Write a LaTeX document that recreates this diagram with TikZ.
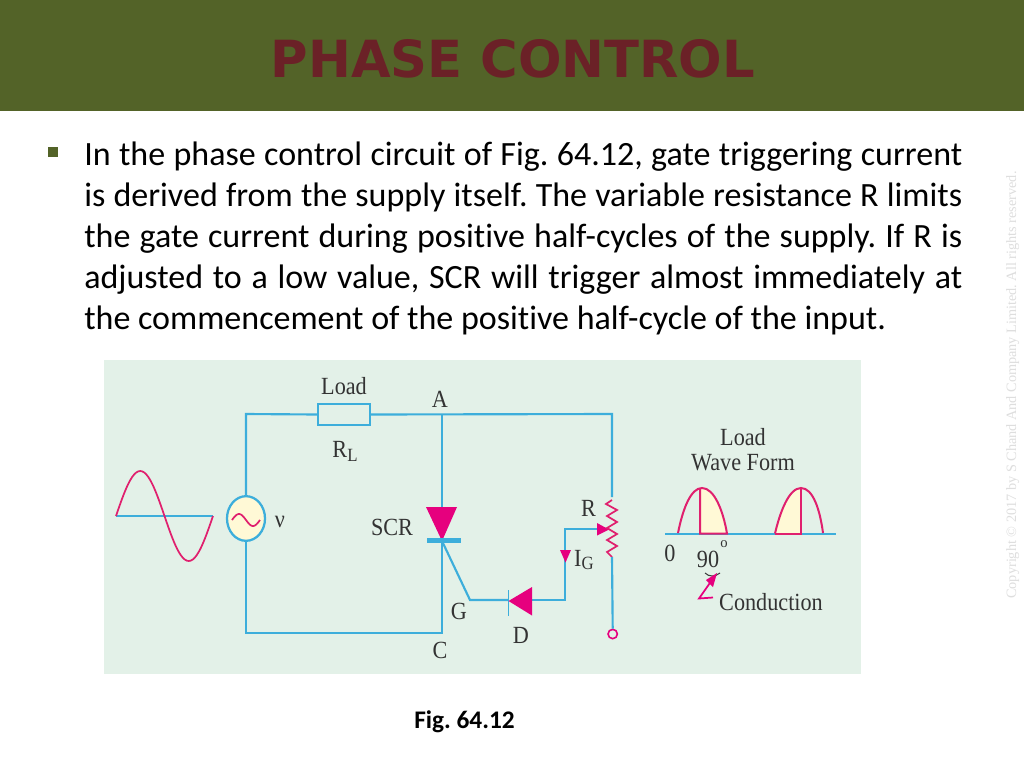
\documentclass[tikz,border=0pt]{standalone}
\usepackage{fontspec}
\setmainfont[Ligatures=NoCommon]{Carlito}
\newfontfamily\titlefont{DejaVu Sans}
\newfontfamily\figfont[FakeStretch=0.9]{Liberation Serif}
\newfontfamily\copyfont{Liberation Serif}
\usetikzlibrary{calc,shapes.geometric}
\definecolor{headgreen}{HTML}{536328}
\definecolor{titlered}{HTML}{6B2127}
\definecolor{panelgreen}{HTML}{E3F1E8}
\definecolor{wireblue}{HTML}{3DAEDB}
\definecolor{magentaC}{HTML}{E6007E}
\definecolor{crimsonC}{HTML}{E0206E}
\definecolor{fillyellow}{HTML}{FFF9D6}
\definecolor{copygray}{HTML}{DEDEDE}
\tikzset{
 wire/.style={draw=wireblue,line width=1.6pt,line join=miter},
 pinkline/.style={draw=crimsonC,line width=1.5pt},
 lbl/.style={font=\figfont\fontsize{18.5}{20}\selectfont,text=black!80,inner sep=0pt},
 bodyline/.style={anchor=base west,inner sep=0pt,font=\fontsize{25.5}{30}\selectfont,text=black},
}
\newcommand{\jline}[1]{\makebox[658.5pt][s]{#1}}
\frenchspacing
\begin{document}
\begin{tikzpicture}[x=0.75pt,y=-0.75pt]
\useasboundingbox (0,0) rectangle (1024,768);
\fill[white] (0,0) rectangle (1024,768);
\fill[headgreen] (0,0) rectangle (1024,110.5);
\node[inner sep=0pt,text=titlered,font=\titlefont\bfseries\fontsize{38.4}{44}\selectfont] (title) at (513,58.5) {PHASE CONTROL};
\fill[headgreen] (48,147) rectangle (57.5,157);
\node[bodyline] (l1) at (84,165) {\jline{In the phase control circuit of Fig. 64.12, gate triggering current}};
\node[bodyline] (l2) at (84,206) {\jline{is derived from the supply itself. The variable resistance R limits}};
\node[bodyline] (l3) at (84,247) {\jline{the gate current during positive half-cycles of the supply. If R is}};
\node[bodyline] (l4) at (84,288) {\jline{adjusted to a low value, SCR will trigger almost immediately at}};
\node[bodyline] (l5) at (84,329) {the commencement of the positive half-cycle of the input.};
\node[rotate=90,anchor=base,inner sep=0pt,text=copygray,font=\copyfont\fontsize{10.7}{12}\selectfont] (copy) at (1016,385) {Copyright © 2017 by S Chand And Company Limited. All rights reserved.};
\fill[panelgreen] (104,360) rectangle (861,674);
% input sine
\coordinate (sA) at (116,516); \coordinate (sB) at (213,516);
\draw[wire] (sA) -- (sB);
\draw[pinkline,line width=1.3pt] plot[smooth,domain=0:360,samples=49] ({116+\x/360*97},{516-45*sin(\x)});
% source and wires
\coordinate (tl) at (246,414); \coordinate (bl) at (246,633);
\coordinate (A) at (442,414); \coordinate (C) at (442,633);
\coordinate (tr) at (612,414); \coordinate (rt) at (612,497); \coordinate (rb) at (612,557);
\node[draw=wireblue,line width=1.7pt,fill=fillyellow,ellipse,minimum width=28.5pt,minimum height=33.5pt,inner sep=0pt] (src) at (246,518.5) {};
\node[draw=wireblue,fill=panelgreen,line width=1.5pt,minimum width=39pt,minimum height=16pt,inner sep=0pt] (load) at (344,414.5) {};
\coordinate (sc) at (442,541);
\draw[wire] (src.north) -- (tl) -- (load.west);
\draw[wire] (load.east) -- (tr) -- (rt);
\draw[wire] (src.south) -- (bl) -- (C) -- (sc);
\draw[wire] (A) -- (sc);
\draw[pinkline,line width=1.3pt] plot[smooth,domain=0:360,samples=33] ({232+\x/360*28},{520-6*sin(\x)});
% SCR
\fill[magentaC] (426,507) -- (457,507) -- (sc) -- cycle;
\draw[draw=wireblue,line width=3.2pt] (427,540.5) -- (461,540.5);
% gate
\coordinate (G) at (470,600); \coordinate (dA) at (508.5,600); \coordinate (dB) at (532,600);
\coordinate (gk) at (565,600); \coordinate (gt) at (565,529); \coordinate (wiper) at (600,529);
\draw[wire] (sc) -- (G) -- (dA);
\draw[wire] (dB) -- (gk) -- (gt) -- (wiper);
\draw[draw=wireblue,line width=1pt] (508.5,590) -- (508.5,616);
\fill[magentaC] (532,587) -- (532,615.5) -- (508.5,601) -- cycle;
\fill[magentaC] (560,550) -- (571,550) -- (565.5,562.5) -- cycle;
\fill[magentaC] (597,523) -- (609,529.5) -- (597,535.5) -- cycle;
% variable resistor
\draw[pinkline,line width=1.3pt] (612,500) -- (606,504) -- (617,510) -- (607,516) -- (617,522) -- (607,528) -- (617,534) -- (607,540) -- (617,546) -- (607,552) -- (rb);
\node[draw=magentaC,line width=1.2pt,circle,minimum size=7pt,inner sep=0pt] (term) at (612.7,634) {};
\draw[wire] (rb) -- (term.north);
% load waveform
\coordinate (wL) at (665,533.7); \coordinate (wR) at (836,533.7);
\draw[wire] (wL) -- (wR);
\fill[fillyellow] (700,534) -- (700,488.5) .. controls (714,489) and (723,510) .. (727,533) -- cycle;
\fill[fillyellow] (775,534) .. controls (780,512) and (789,491) .. (801,488.5) -- (801,534) -- cycle;
\draw[pinkline] (678,533) .. controls (683,508) and (691,488) .. (702,488) .. controls (714,488) and (723,510) .. (727,533.5) -- (700,533.5) -- (700,488.5);
\draw[pinkline] (775,533.5) .. controls (780,512) and (789,488) .. (801,488) .. controls (813,488) and (820,510) .. (823,533);
\draw[pinkline] (775,533.5) -- (801,533.5) -- (801,488);
% conduction pointer
\draw[draw=black!75,line width=.8pt] (705,573) .. controls (709,577) and (715,577) .. (720,573);
\fill[magentaC] (717,573) -- (713,587) -- (706,580) -- cycle;
\draw[draw=magentaC,line width=1.3pt] (712,580) -- (699,598.5) -- (713,597.5);
% labels
\node[lbl] (tLoad) at (344,386) {Load};
\node[lbl] (tRL) at (345,451) {R\raisebox{-.35ex}{\fontsize{14}{15}\selectfont L}};
\node[lbl] (tA) at (440,399) {A};
\node[lbl] (tC) at (440,650) {C};
\node[lbl] (tSCR) at (392,527) {SCR};
\node[lbl] (tG) at (459,611) {G};
\node[lbl] (tD) at (521,635) {D};
\node[lbl] (tv) at (280,522) {ν};
\node[lbl] (tR) at (588.5,508) {R};
\node[lbl] (tIG) at (584,560) {I\raisebox{-.35ex}{\fontsize{14}{15}\selectfont G}};
\node[lbl] (tLoad2) at (743,437) {Load};
\node[lbl] (tWave) at (743,463) {Wave Form};
\node[lbl] (t0) at (670,553) {0};
\node[lbl] (t90) at (708,559) {90};
\node[lbl,font=\copyfont\fontsize{11}{12}\selectfont] (tdeg) at (724,544) {o};
\node[lbl] (tCond) at (771,602) {Conduction};
\node[inner sep=0pt,font=\bfseries\fontsize{19}{22}\selectfont] (fig) at (464.5,722) {Fig. 64.12};
\end{tikzpicture}
\end{document}
